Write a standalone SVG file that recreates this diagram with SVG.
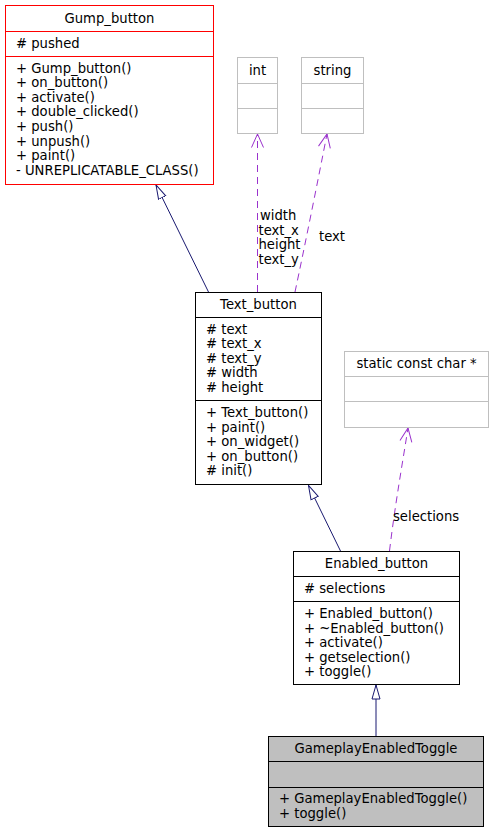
<svg xmlns="http://www.w3.org/2000/svg" width="493" height="832" viewBox="0 0 493 832">
<style>
text{font-family:"DejaVu Sans","Liberation Sans",sans-serif;font-size:13.2px;fill:#000}
.c{text-anchor:middle}
.box{fill:#fff;stroke:#000;stroke-width:1}
.red{fill:#fff;stroke:#ff0000;stroke-width:1}
.grey{fill:#fff;stroke:#bfbfbf;stroke-width:1}
.cur{fill:#bfbfbf;stroke:#000;stroke-width:1}
.inh{fill:none;stroke:#191970;stroke-width:1}
.dep{fill:none;stroke:#9a32cd;stroke-width:1;stroke-dasharray:7,5}
</style>
<defs>
<marker id="tri" markerUnits="userSpaceOnUse" viewBox="0 0 15 10" markerWidth="15" markerHeight="10" refX="14.5" refY="5" orient="auto">
<polygon points="0.5,1 14.5,5 0.5,9" fill="#fff" stroke="#191970" stroke-width="1"/>
</marker>
<marker id="vee" markerUnits="userSpaceOnUse" viewBox="0 0 15 14" markerWidth="15" markerHeight="14" refX="14" refY="7" orient="auto">
<path d="M0.5,1 L14,7 L0.5,13" fill="none" stroke="#9a32cd" stroke-width="1"/>
</marker>
</defs>
<g id="connectors">
<path class="inh" d="M208.5,292 L156,185" marker-end="url(#tri)"/>
<path class="inh" d="M340.5,551 L308.5,485.5" marker-end="url(#tri)"/>
<path class="inh" d="M376,736 L376,685" marker-end="url(#tri)"/>
<path class="dep" d="M257.5,292 L257.5,134" marker-end="url(#vee)"/>
<path class="dep" d="M295,292 C305,245 318,180 327,134" marker-end="url(#vee)"/>
<path class="dep" d="M389.5,551 C395,505 403,460 408,428" marker-end="url(#vee)"/>
<text x="260" y="220">width</text>
<text x="258.5" y="234.5">text_x</text>
<text x="258.5" y="249">height</text>
<text x="258.5" y="263.5">text_y</text>
<text x="319" y="241">text</text>
<text x="393" y="521">selections</text>
</g>
<g id="Gump_button">
<rect class="red" x="5.5" y="5.5" width="208" height="179"/>
<line x1="5.5" y1="31.5" x2="213.5" y2="31.5" stroke="#ff0000"/>
<line x1="5.5" y1="56.5" x2="213.5" y2="56.5" stroke="#ff0000"/>
<text class="c" x="109.5" y="23">Gump_button</text>
<text x="16" y="47.5"># pushed</text>
<text x="16" y="72.5">+ Gump_button()</text>
<text x="16" y="87">+ on_button()</text>
<text x="16" y="101.7">+ activate()</text>
<text x="16" y="116.4">+ double_clicked()</text>
<text x="16" y="131">+ push()</text>
<text x="16" y="145.7">+ unpush()</text>
<text x="16" y="160.3">+ paint()</text>
<text x="16" y="175.2">- UNREPLICATABLE_CLASS()</text>
</g>
<g id="int">
<rect class="grey" x="237.5" y="57.5" width="40" height="76"/>
<line x1="237.5" y1="83.5" x2="277.5" y2="83.5" stroke="#bfbfbf"/>
<line x1="237.5" y1="108.5" x2="277.5" y2="108.5" stroke="#bfbfbf"/>
<text class="c" x="257.5" y="75">int</text>
</g>
<g id="string">
<rect class="grey" x="301.5" y="57.5" width="62" height="76"/>
<line x1="301.5" y1="83.5" x2="363.5" y2="83.5" stroke="#bfbfbf"/>
<line x1="301.5" y1="108.5" x2="363.5" y2="108.5" stroke="#bfbfbf"/>
<text class="c" x="332.5" y="75">string</text>
</g>
<g id="Text_button">
<rect class="box" x="195.5" y="292.5" width="126" height="192"/>
<line x1="195.5" y1="317.5" x2="321.5" y2="317.5" stroke="#000"/>
<line x1="195.5" y1="400.5" x2="321.5" y2="400.5" stroke="#000"/>
<text class="c" x="258.5" y="309">Text_button</text>
<text x="206" y="333.5"># text</text>
<text x="206" y="348"># text_x</text>
<text x="206" y="362.5"># text_y</text>
<text x="206" y="377"># width</text>
<text x="206" y="391.5"># height</text>
<text x="206" y="417">+ Text_button()</text>
<text x="206" y="431.5">+ paint()</text>
<text x="206" y="446">+ on_widget()</text>
<text x="206" y="460.5">+ on_button()</text>
<text x="206" y="475"># init()</text>
</g>
<g id="static_const_char">
<rect class="grey" x="344.5" y="351.5" width="144" height="76"/>
<line x1="344.5" y1="376.5" x2="488.5" y2="376.5" stroke="#bfbfbf"/>
<line x1="344.5" y1="401.5" x2="488.5" y2="401.5" stroke="#bfbfbf"/>
<text class="c" x="416.5" y="368">static const char *</text>
</g>
<g id="Enabled_button">
<rect class="box" x="293.5" y="551.5" width="166" height="133"/>
<line x1="293.5" y1="576.5" x2="459.5" y2="576.5" stroke="#000"/>
<line x1="293.5" y1="601.5" x2="459.5" y2="601.5" stroke="#000"/>
<text class="c" x="376.5" y="568">Enabled_button</text>
<text x="304" y="592.7"># selections</text>
<text x="304" y="618">+ Enabled_button()</text>
<text x="304" y="632.6">+ ~Enabled_button()</text>
<text x="304" y="647.2">+ activate()</text>
<text x="304" y="661.8">+ getselection()</text>
<text x="304" y="676.4">+ toggle()</text>
</g>
<g id="GameplayEnabledToggle">
<rect class="cur" x="268.5" y="736.5" width="215" height="90"/>
<line x1="268.5" y1="761.5" x2="483.5" y2="761.5" stroke="#000"/>
<line x1="268.5" y1="787.5" x2="483.5" y2="787.5" stroke="#000"/>
<text class="c" x="376" y="753">GameplayEnabledToggle</text>
<text x="279" y="803">+ GameplayEnabledToggle()</text>
<text x="279" y="817.6">+ toggle()</text>
</g>
</svg>
